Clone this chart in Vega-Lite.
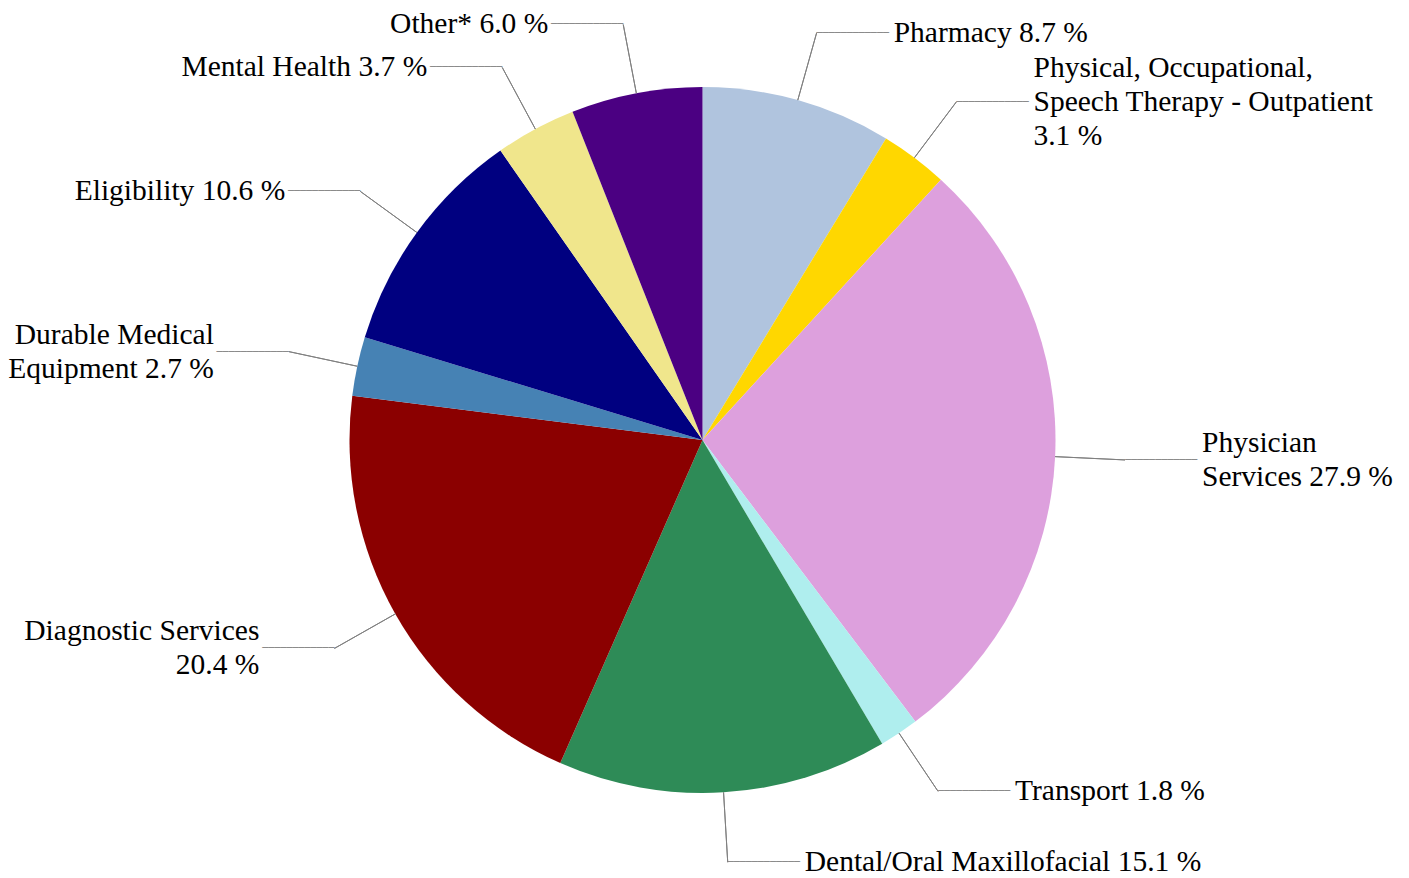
{
  "$schema": "https://vega.github.io/schema/vega-lite/v6.json",
  "autosize": {"type": "none"},
  "width": 1405,
  "height": 876,
  "padding": {"left": 0, "top": 2, "right": 4, "bottom": 0},
  "background": "white",
  "config": {"view": {"stroke": null}},
  "data": {
    "values": [
      {"i": 1, "cat": "Pharmacy", "value": 8.7, "label": "Pharmacy 8.7 %"},
      {"i": 2, "cat": "Physical, Occupational, Speech Therapy - Outpatient", "value": 3.1, "label": "Physical, Occupational,\nSpeech Therapy - Outpatient\n3.1 %"},
      {"i": 3, "cat": "Physician Services", "value": 27.9, "label": "Physician\nServices 27.9 %"},
      {"i": 4, "cat": "Transport", "value": 1.8, "label": "Transport 1.8 %"},
      {"i": 5, "cat": "Dental/Oral Maxillofacial", "value": 15.1, "label": "Dental/Oral Maxillofacial 15.1 %"},
      {"i": 6, "cat": "Diagnostic Services", "value": 20.4, "label": "Diagnostic Services\n20.4 %"},
      {"i": 7, "cat": "Durable Medical Equipment", "value": 2.7, "label": "Durable Medical\nEquipment 2.7 %"},
      {"i": 8, "cat": "Eligibility", "value": 10.6, "label": "Eligibility 10.6 %"},
      {"i": 9, "cat": "Mental Health", "value": 3.7, "label": "Mental Health 3.7 %"},
      {"i": 10, "cat": "Other*", "value": 6.0, "label": "Other* 6.0 %"}
    ]
  },
  "encoding": {
    "theta": {"field": "value", "type": "quantitative", "stack": true},
    "order": {"field": "i", "type": "quantitative", "sort": "ascending"}
  },
  "layer": [
    {
      "mark": {"type": "arc", "radius": 353, "stroke": null},
      "encoding": {
        "color": {
          "field": "cat",
          "type": "nominal",
          "legend": null,
          "scale": {
            "domain": ["Pharmacy", "Physical, Occupational, Speech Therapy - Outpatient", "Physician Services", "Transport", "Dental/Oral Maxillofacial", "Diagnostic Services", "Durable Medical Equipment", "Eligibility", "Mental Health", "Other*"],
            "range": ["#B0C4DE", "#FFD700", "#DDA0DD", "#AFEEEE", "#2E8B57", "#8B0000", "#4682B4", "#000080", "#F0E68C", "#4B0082"]
          }
        }
      }
    },
    {
      "mark": {"type": "arc", "radius": 423, "radius2": 353, "padAngle": 3.3, "fill": null, "filled": false, "stroke": "#808080", "strokeWidth": 1},
      "encoding": {"detail": {"field": "cat", "type": "nominal"}}
    },
    {
      "mark": {"type": "text", "radius": 423, "align": "left", "baseline": "middle", "font": "DejaVu Sans Mono", "fontSize": 10, "color": "#808080"},
      "encoding": {
        "detail": {"field": "cat", "type": "nominal"},
        "text": {"condition": {"test": "datum.value_start + datum.value_end < 100", "value": "────────────"}, "value": ""}
      }
    },
    {
      "mark": {"type": "text", "radius": 423, "align": "right", "baseline": "middle", "font": "DejaVu Sans Mono", "fontSize": 10, "color": "#808080"},
      "encoding": {
        "detail": {"field": "cat", "type": "nominal"},
        "text": {"condition": {"test": "datum.value_start + datum.value_end >= 100", "value": "────────────"}, "value": ""}
      }
    },
    {
      "mark": {"type": "text", "radius": 423, "dx": 77, "dy": {"expr": "-17 * (length(split(datum.label, '\\n')) - 1)"}, "align": "left", "baseline": "middle", "font": "Liberation Serif", "fontSize": 29.5, "lineHeight": 34, "lineBreak": "\n", "color": "#000000"},
      "encoding": {
        "detail": {"field": "cat", "type": "nominal"},
        "text": {"condition": {"test": "datum.value_start + datum.value_end < 100", "field": "label"}, "value": ""}
      }
    },
    {
      "mark": {"type": "text", "radius": 423, "dx": -75, "dy": {"expr": "-17 * (length(split(datum.label, '\\n')) - 1)"}, "align": "right", "baseline": "middle", "font": "Liberation Serif", "fontSize": 29.5, "lineHeight": 34, "lineBreak": "\n", "color": "#000000"},
      "encoding": {
        "detail": {"field": "cat", "type": "nominal"},
        "text": {"condition": {"test": "datum.value_start + datum.value_end >= 100", "field": "label"}, "value": ""}
      }
    }
  ]
}
